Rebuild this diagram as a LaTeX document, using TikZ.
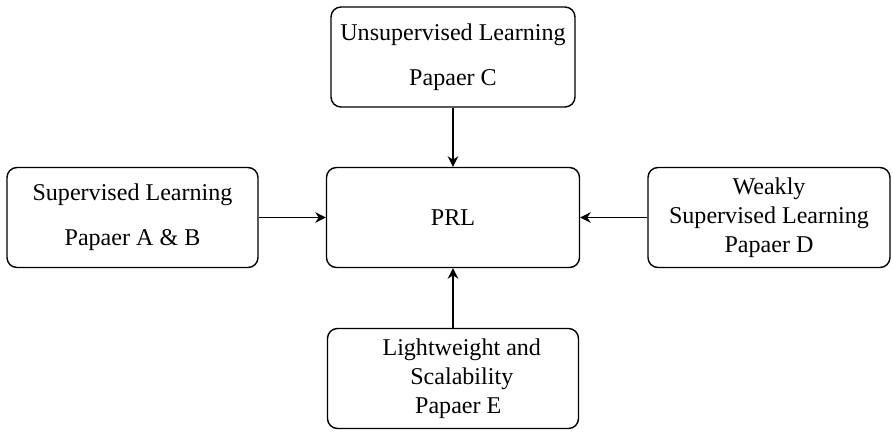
\documentclass[tikz,border=0pt]{standalone}
\usepackage{fontspec}
\setmainfont{Liberation Serif}
\usetikzlibrary{arrows.meta}

\begin{document}
\begin{tikzpicture}[x=1cm,y=1cm,>={Stealth[length=6pt,width=6pt]},
        font=\fontsize{13.7}{16.5}\selectfont,
        topicbox/.style={draw,line width=0.8pt,rounded corners=0.2cm,
            align=center,inner sep=2pt,minimum height=2cm},
        feed/.style={->,line width=0.75pt}]
        \def\midX{9.06}
        \def\midY{-4.35}

        \useasboundingbox (0,0) rectangle (17.86,-8.62);

        % Central topic and the four study areas around it.
        \node[topicbox,minimum width=5.06cm] (prl) at (\midX,\midY) {PRL};
        \node[topicbox,minimum width=4.88cm] (unsup) at (\midX,-1.14)
            {Unsupervised Learning\\[9pt]Papaer C};
        \node[topicbox,minimum width=5.02cm] (sup) at (2.65,\midY)
            {Supervised Learning\\[9pt]Papaer A \& B};
        \node[topicbox,minimum width=4.84cm] (weak) at (15.38,\midY)
            {Weakly\\Supervised Learning\\Papaer D};
        \node[topicbox,minimum width=5.02cm] (light) at (\midX,-7.57)
            {\hspace*{10pt}Lightweight and\\\hspace*{10pt}Scalability\\
            \hspace*{6pt}Papaer E};

        % Every area feeds into PRL.
        \draw[feed] (unsup) -- (prl);
        \draw[feed] (sup) -- (prl);
        \draw[feed] (weak) -- (prl);
        \draw[feed] (light) -- (prl);
    \end{tikzpicture}
\end{document}
